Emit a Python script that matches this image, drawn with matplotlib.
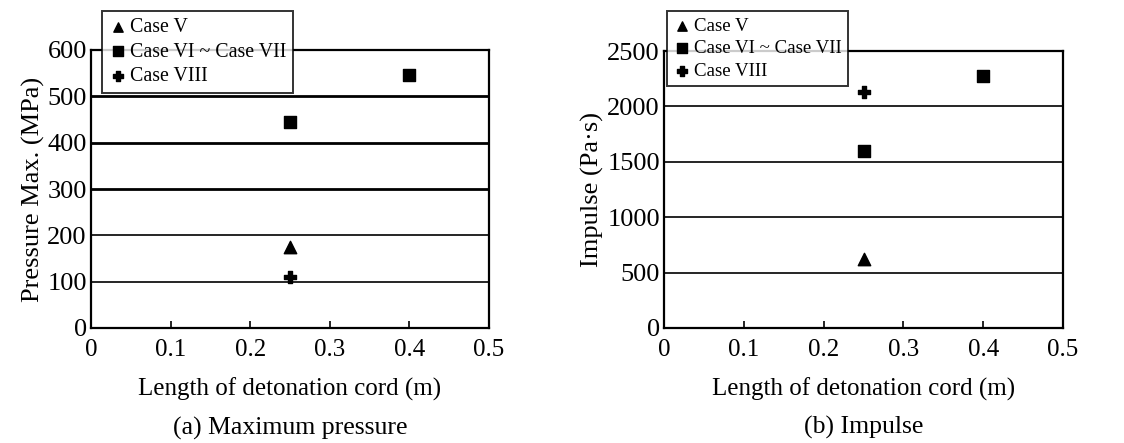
import matplotlib

matplotlib.use("Agg")
import matplotlib.pyplot as plt

plt.rcParams["font.family"] = ["Liberation Serif", "DejaVu Serif"]

# data
length_v = [0.25]
length_vi_vii = [0.25, 0.4]
length_viii = [0.25]

pressure_v = [175]
pressure_vi_vii = [445, 545]
pressure_viii = [110]

impulse_v = [620]
impulse_vi_vii = [1600, 2270]
impulse_viii = [2130]

series_labels = ["Case V", "Case VI ~ Case VII", "Case VIII"]
x_ticks = [0, 0.1, 0.2, 0.3, 0.4, 0.5]
x_tick_labels = ["0", "0.1", "0.2", "0.3", "0.4", "0.5"]
pressure_ticks = [0, 100, 200, 300, 400, 500, 600]
impulse_ticks = [0, 500, 1000, 1500, 2000, 2500]


def draw_panel(ax, yv, yvi, yviii, yticks, ylabel, caption, heavy, leg_anchor, leg_size):
    ax.scatter(length_v, yv, marker="^", s=80, color="black", label=series_labels[0], zorder=3)
    ax.scatter(length_vi_vii, yvi, marker="s", s=80, color="black", label=series_labels[1], zorder=3)
    ax.scatter(length_viii, yviii, marker="P", s=80, color="black", label=series_labels[2], zorder=3)

    for y in yticks[1:-1]:
        ax.axhline(y, color="black", lw=2.0 if y in heavy else 1.2, zorder=1)

    ax.set_xlim(0, 0.5)
    ax.set_ylim(yticks[0], yticks[-1])
    ax.set_xticks(x_ticks)
    ax.set_xticklabels(x_tick_labels)
    ax.set_yticks(yticks)
    ax.tick_params(axis="x", direction="in", length=5, width=1.2, labelsize=18, pad=8)
    ax.tick_params(axis="y", length=0, labelsize=19, pad=3)
    for s in ax.spines.values():
        s.set_linewidth(1.6)

    ax.set_ylabel(ylabel, fontsize=19, labelpad=2)
    ax.set_xlabel("Length of detonation cord (m)", fontsize=18, labelpad=12)
    ax.text(0.5, -0.36, caption, transform=ax.transAxes, ha="center", va="center", fontsize=18.5)

    leg = ax.legend(loc="upper left", bbox_to_anchor=leg_anchor, frameon=True, fancybox=False,
                    edgecolor="black", fontsize=leg_size, handlelength=0.9, handletextpad=0.15,
                    borderpad=0.35, labelspacing=0.28, markerscale=0.75, borderaxespad=0)
    leg.get_frame().set_linewidth(1.4)
    leg.set_zorder(5)


fig = plt.figure(figsize=(11.24, 4.43), dpi=100)
ax1 = fig.add_axes([91 / 1124, 1 - 328 / 443, 398 / 1124, 278 / 443])
ax2 = fig.add_axes([664 / 1124, 1 - 328 / 443, 399 / 1124, 277 / 443])

draw_panel(ax1, pressure_v, pressure_vi_vii, pressure_viii, pressure_ticks,
           "Pressure Max. (MPa)", "(a) Maximum pressure", [300, 400, 500], (0.028, 1.14), 14.3)
draw_panel(ax2, impulse_v, impulse_vi_vii, impulse_viii, impulse_ticks,
           "Impulse (Pa·s)", "(b) Impulse", [], (0.008, 1.145), 13.6)

fig.savefig("out.png", dpi=100)
